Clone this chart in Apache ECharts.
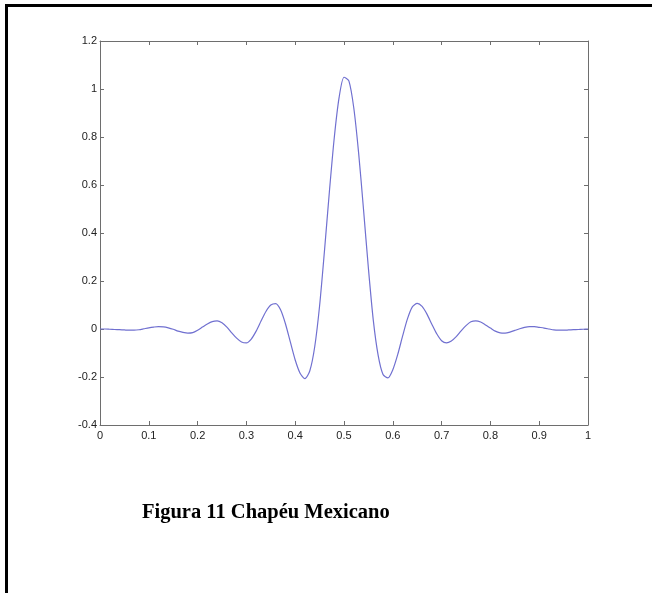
<!DOCTYPE html>
<html>
<head>
<meta charset="utf-8">
<script src="https://cdn.jsdelivr.net/npm/echarts@6/dist/echarts.min.js"></script>
<style>
  html, body { margin: 0; padding: 0; background: #fff; }
  #frame { position: absolute; left: 5px; top: 4px; width: 647px; height: 589px;
           border-left: 3px solid #000; border-top: 3px solid #000; box-sizing: border-box; }
  #chart { position: absolute; left: 0; top: 0; width: 652px; height: 593px; }
</style>
</head>
<body>
<div id="frame"></div>
<div id="chart"></div>
<script>
// x positions of the samples
const xValues = [
  0.00,0.01,0.02,0.03,0.04,0.05,0.06,0.07,0.08,0.09,
  0.10,0.11,0.12,0.13,0.14,0.15,0.16,0.17,0.18,0.19,
  0.20,0.21,0.22,0.23,0.24,0.25,0.26,0.27,0.28,0.29,
  0.30,0.31,0.32,0.33,0.34,0.35,0.36,0.37,0.38,0.39,
  0.40,0.41,0.42,0.43,0.44,0.45,0.46,0.47,0.48,0.49,
  0.50,0.51,0.52,0.53,0.54,0.55,0.56,0.57,0.58,0.59,
  0.60,0.61,0.62,0.63,0.64,0.65,0.66,0.67,0.68,0.69,
  0.70,0.71,0.72,0.73,0.74,0.75,0.76,0.77,0.78,0.79,
  0.80,0.81,0.82,0.83,0.84,0.85,0.86,0.87,0.88,0.89,
  0.90,0.91,0.92,0.93,0.94,0.95,0.96,0.97,0.98,0.99,1.00
];
// curve values
const yValues = [
  0.000,-0.000,-0.001,-0.002,-0.003,-0.004,-0.005,-0.005,-0.003,0.001,
  0.005,0.008,0.010,0.009,0.005,-0.001,-0.009,-0.014,-0.017,-0.015,
  -0.005,0.008,0.021,0.031,0.034,0.026,0.008,-0.016,-0.038,-0.054,
  -0.058,-0.042,-0.009,0.033,0.073,0.100,0.106,0.080,0.022,-0.054,
  -0.129,-0.184,-0.207,-0.174,-0.074,0.097,0.326,0.571,0.796,0.965,
  1.049,1.034,0.922,0.733,0.498,0.253,0.037,-0.110,-0.190,-0.204,
  -0.170,-0.107,-0.030,0.042,0.092,0.107,0.094,0.062,0.020,-0.020,
  -0.049,-0.058,-0.050,-0.032,-0.008,0.014,0.030,0.034,0.029,0.017,
  0.004,-0.009,-0.016,-0.017,-0.013,-0.006,0.001,0.007,0.010,0.010,
  0.007,0.004,-0.000,-0.004,-0.005,-0.005,-0.004,-0.003,-0.002,-0.001,0.000
];
const xTicks = [0,0.1,0.2,0.3,0.4,0.5,0.6,0.7,0.8,0.9,1];
const yTicks = [-0.4,-0.2,0,0.2,0.4,0.6,0.8,1,1.2];
const captionText = 'Figura 11 Chapéu Mexicano';

const points = xValues.map((x, i) => [x, yValues[i]]);
const fmt = v => String(Number(v.toFixed(2)));
const axisColor = '#6e6e6e';
const labelStyle = { color: '#222', fontSize: 11, fontFamily: 'Liberation Sans, Arial, sans-serif' };

function xAxisDef(pos, showLabel) {
  return {
    type: 'value', position: pos,
    min: xTicks[0], max: xTicks[xTicks.length - 1], interval: 0.1,
    axisLine: { show: true, onZero: false, lineStyle: { color: axisColor, width: 1 } },
    axisTick: { show: true, inside: true, length: 4, lineStyle: { color: axisColor } },
    axisLabel: Object.assign({ show: showLabel, margin: 5, formatter: fmt }, labelStyle),
    splitLine: { show: false }
  };
}
function yAxisDef(pos, showLabel) {
  return {
    type: 'value', position: pos,
    min: yTicks[0], max: yTicks[yTicks.length - 1], interval: 0.2,
    axisLine: { show: true, onZero: false, lineStyle: { color: axisColor, width: 1 } },
    axisTick: { show: true, inside: true, length: 4, lineStyle: { color: axisColor } },
    axisLabel: Object.assign({ show: showLabel, margin: 3, formatter: fmt }, labelStyle),
    splitLine: { show: false }
  };
}

const chart = echarts.init(document.getElementById('chart'), null, { renderer: 'canvas' });
chart.setOption({
  backgroundColor: 'transparent',
  animation: false,
  title: {
    text: captionText,
    left: 137, top: 497,
    textStyle: { fontFamily: 'Liberation Serif, Times New Roman, serif', fontWeight: 'bold', fontSize: 20.5, color: '#000' }
  },
  grid: { left: 100, top: 41, right: 64, bottom: 168, containLabel: false },
  xAxis: [xAxisDef('bottom', true), xAxisDef('top', false)],
  yAxis: [yAxisDef('left', true), yAxisDef('right', false)],
  series: [{
    type: 'line',
    xAxisIndex: 0, yAxisIndex: 0,
    data: points,
    smooth: 0.25,
    showSymbol: false,
    lineStyle: { color: '#7070d0', width: 1.2 }
  }]
});
</script>
</body>
</html>
